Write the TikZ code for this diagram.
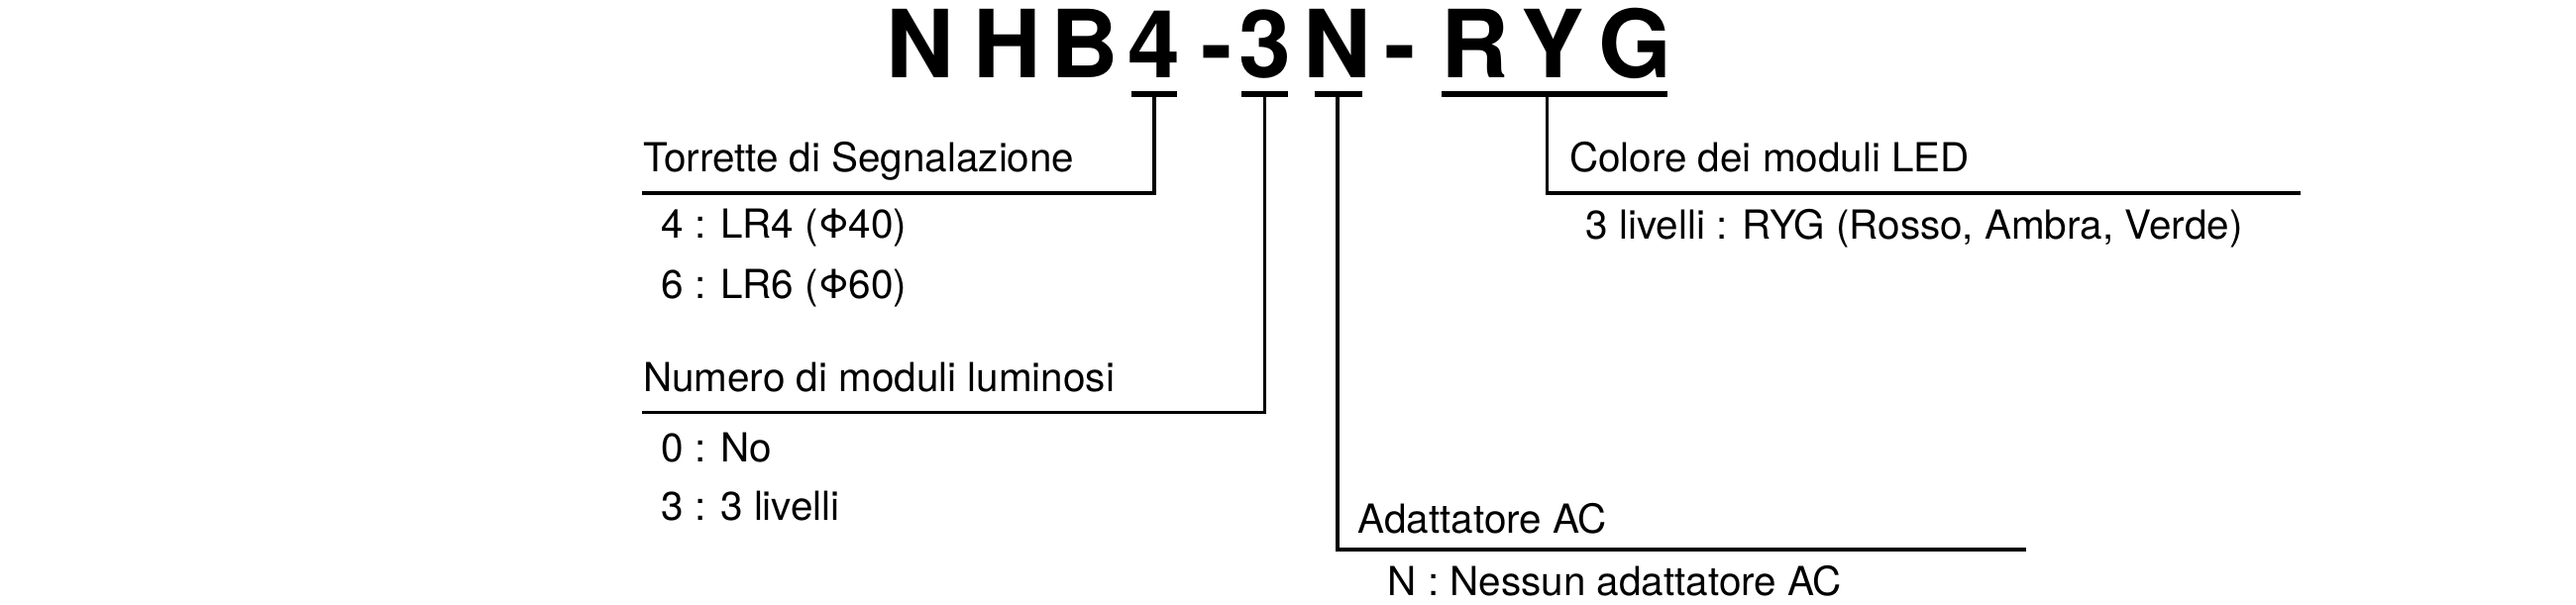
\documentclass[tikz,border=0pt]{standalone}
\usepackage{fontspec}
\setmainfont{TeX Gyre Heros}
\usetikzlibrary{positioning}
\begin{document}
\begin{tikzpicture}[
    x=0.016667cm, y=-0.016667cm,
    every node/.style={inner sep=0pt, anchor=base west, font=\fontsize{11.5}{14}\selectfont},
    letter/.style={anchor=base, font=\fontsize{27}{30}\selectfont\bfseries},
    lead/.style={line width=1pt},
    uline/.style={line width=1.6pt}
    ]
    \useasboundingbox (0,0) rectangle (1560,366);
    % code letters
    \foreach \ch/\xx [count=\i] in {N/557,H/610,B/657,4/699,-/737,3/766,N/810,-/848,R/893,Y/940,G/990}
      \node[letter] (t\i) at (\xx,47) {\ch};
    % underlines
    \coordinate (u4) at (699,57);
    \coordinate (u3) at (766,57);
    \coordinate (uN) at (810,57);
    \coordinate (uG) at (937,57);
    \draw[uline] (685,57) -- (713,57);
    \draw[uline] (752,57) -- (780,57);
    \draw[uline] (796,57) -- (825,57);
    \draw[uline] (873,57) -- (1010,57);
    % leaders
    \coordinate (c4) at (389,117);
    \coordinate (c3) at (389,250);
    \coordinate (cN) at (1227,333);
    \coordinate (cG) at (1393,117);
    \draw[lead] (u4) |- (c4);
    \draw[lead] (u3) |- (c3);
    \draw[lead] (uN) |- (cN);
    \draw[lead] (uG) |- (cG);
    % texts
    \node (torr) at (389,104) {Torrette di Segnalazione};
    \node (lr4) at (400,144) {4 : LR4 (Φ40)};
    \node (lr6) at (400,181) {6 : LR6 (Φ60)};
    \node (num) at (389,237) {Numero di moduli luminosi};
    \node (no) at (400,280) {0 : No};
    \node (liv) at (400,315) {3 : 3 livelli};
    \node (col) at (950,104) {Colore dei moduli LED};
    \node (ryg) at (960,145) {3 livelli : RYG (Rosso, Ambra, Verde)};
    \node (ada) at (822,323) {Adattatore AC};
    \node (nes) at (840,361) {N : Nessun adattatore AC};
\end{tikzpicture}
\end{document}
